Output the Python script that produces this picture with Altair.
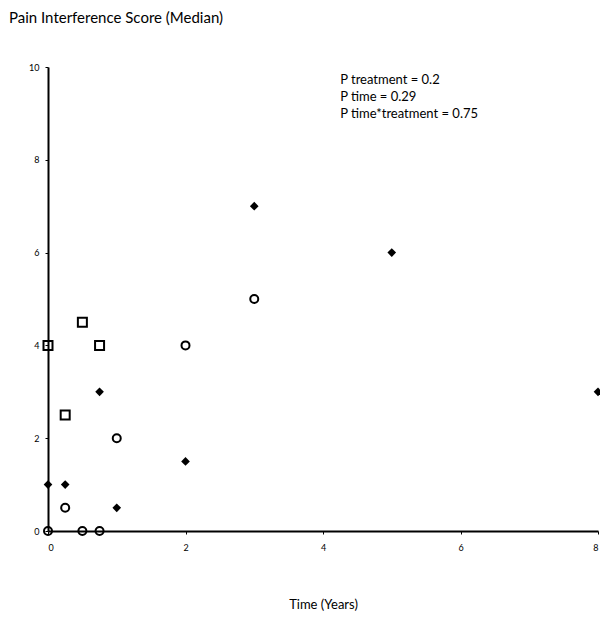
import altair as alt
import pandas as pd

# Filled diamonds
dia_x = [0, 0.25, 0.75, 1, 2, 3, 5, 8]
dia_y = [1, 1, 3, 0.5, 1.5, 7, 6, 3]
# Open circles
cir_x = [0, 0.25, 0.5, 0.75, 1, 2, 3]
cir_y = [0, 0.5, 0, 0, 2, 4, 5]
# Open squares
sq_x = [0, 0.25, 0.5, 0.75]
sq_y = [4, 2.5, 4.5, 4]

note_lines = ["P treatment = 0.2", "P time = 0.29", "P time*treatment = 0.75"]
note_x = [4.25, 4.25, 4.25]
note_y = [9.72, 9.35, 8.98]

FONT = "Lato"

dia = pd.DataFrame({"x": dia_x, "y": dia_y})
cir = pd.DataFrame({"x": cir_x, "y": cir_y})
sq = pd.DataFrame({"x": sq_x, "y": sq_y})
notes = pd.DataFrame({"x": note_x, "y": note_y, "t": note_lines})

xs = alt.Scale(domain=[0, 8], nice=False, zero=False)
ys = alt.Scale(domain=[0, 10], nice=False)

xax = alt.Axis(values=[0, 2, 4, 6, 8], format="d", grid=False, domainColor="black", domainWidth=2,
               tickColor="black", tickSize=3, labelFontSize=9, labelFont=FONT,
               labelColor="black", labelPadding=9, title="Time (Years)",
               titleFont=FONT, titleFontSize=13, titleFontWeight="normal",
               titlePadding=46, titleColor="black")
yax = alt.Axis(values=[0, 2, 4, 6, 8, 10], format="d", grid=False, domainColor="black", domainWidth=2,
               tickColor="black", tickSize=3, labelFontSize=9, labelFont=FONT,
               labelColor="black", labelPadding=6, title=None)

base_x = alt.X("x:Q", scale=xs, axis=xax)
base_y = alt.Y("y:Q", scale=ys, axis=yax)

l_dia = alt.Chart(dia).mark_point(shape="diamond", filled=True, color="black", size=75, opacity=1).encode(x=base_x, y=base_y)
l_cir = alt.Chart(cir).mark_point(shape="circle", filled=False, color="black", size=64, strokeWidth=2, opacity=1).encode(x=base_x, y=base_y)
l_sq = alt.Chart(sq).mark_point(shape="square", filled=False, color="black", size=81, strokeWidth=2, opacity=1).encode(x=base_x, y=base_y)
l_txt = alt.Chart(notes).mark_text(align="left", baseline="middle", font=FONT, fontSize=13, color="black").encode(
    x=alt.X("x:Q", scale=xs), y=alt.Y("y:Q", scale=ys), text="t:N")

chart = alt.layer(l_dia, l_cir, l_sq, l_txt).properties(
    width=550, height=464,
    autosize=alt.AutoSizeParams(type="none"),
    padding={"left": 40, "top": 59, "right": 2, "bottom": 80},
    title=alt.TitleParams("Pain Interference Score (Median)", anchor="start", frame="group",
                          dx=-39, offset=37, font=FONT, fontSize=15, fontWeight="normal", color="black"),
).configure_view(stroke=None)

chart.save("out.html", embed_options={"renderer": "svg", "actions": False})
